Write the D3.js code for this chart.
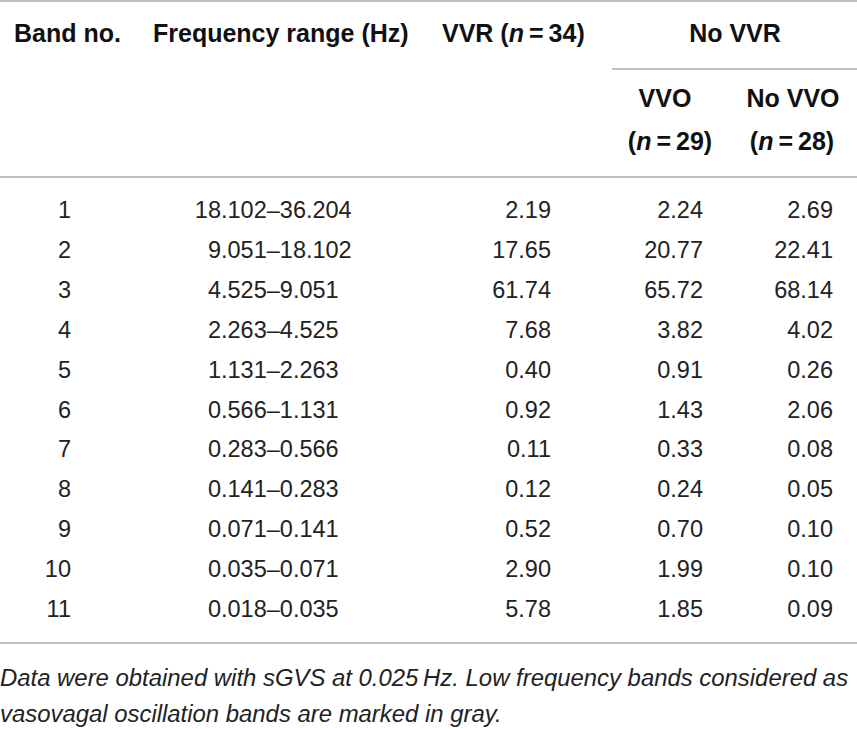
<!DOCTYPE html>
<html>
<head>
<meta charset="utf-8">
<script src="https://cdn.jsdelivr.net/npm/d3@7"></script>
<style>
  body { margin: 0; background: #fff; }
  svg text { font-family: "Liberation Sans", Arial, sans-serif; fill: #111; }
  .head { font-weight: bold; font-size: 25px; }
  .cell { font-size: 23.5px; fill: #222; }
  .note { font-size: 23.9px; font-style: italic; fill: #222; }
</style>
</head>
<body>
<svg id="viz"></svg>
<script>
// table data
var bands = [1, 2, 3, 4, 5, 6, 7, 8, 9, 10, 11]
var freqRanges = ["18.102–36.204", "9.051–18.102", "4.525–9.051", "2.263–4.525", "1.131–2.263",
  "0.566–1.131", "0.283–0.566", "0.141–0.283", "0.071–0.141", "0.035–0.071", "0.018–0.035"]
var vvr = [2.19, 17.65, 61.74, 7.68, 0.40, 0.92, 0.11, 0.12, 0.52, 2.90, 5.78]
var vvo = [2.24, 20.77, 65.72, 3.82, 0.91, 1.43, 0.33, 0.24, 0.70, 1.99, 1.85]
var noVvo = [2.69, 22.41, 68.14, 4.02, 0.26, 2.06, 0.08, 0.05, 0.10, 0.10, 0.09]
var groupN = { vvr: 34, vvo: 29, noVvo: 28 }
var footnote = ["Data were obtained with sGVS at 0.025\u2009Hz. Low frequency bands considered as",
  "vasovagal oscillation bands are marked in gray."]

var width = 857
var height = 729

var svg = d3.select("#viz")
  .attr("width", width)
  .attr("height", height)

// row baselines
var y = d3.scaleLinear().domain([0, bands.length - 1]).range([218, 617])

var rule = function(x1, x2, yy) {
  svg.append("line")
    .attr("x1", x1).attr("x2", x2)
    .attr("y1", yy).attr("y2", yy)
    .attr("stroke", "#aaa")
    .attr("stroke-width", 1.6)
}

rule(0, width, 1)
rule(612, width, 69)
rule(0, width, 177)
rule(0, width, 643)

// header
function headText(x, yy, anchor, parts) {
  let t = svg.append("text").attr("class", "head")
    .attr("x", x).attr("y", yy).attr("text-anchor", anchor)
  parts.forEach(p => {
    let s = t.append("tspan").text(p[0])
    if (p[1]) s.style("font-style", "italic")
  })
}

headText(14, 42, "start", [["Band no."]])
headText(153, 42, "start", [["Frequency range (Hz)"]])
headText(442, 42, "start", [["VVR ("], ["n", true], ["\u2009=\u2009" + groupN.vvr + ")"]])
headText(735, 42, "middle", [["No VVR"]])
headText(665, 107, "middle", [["VVO"]])
headText(793, 107, "middle", [["No VVO"]])
headText(670, 150, "middle", [["("], ["n", true], ["\u2009=\u2009" + groupN.vvo + ")"]])
headText(792, 150, "middle", [["("], ["n", true], ["\u2009=\u2009" + groupN.noVvo + ")"]])

// body
var rows = svg.selectAll("g.row")
  .data(bands)
  .enter()
  .append("g")
  .attr("class", "row")
  .attr("transform", (d, i) => "translate(0," + y(i) + ")")

rows.append("text").attr("class", "cell")
  .attr("x", 71).attr("text-anchor", "end")
  .text(d => d)

// frequency range aligned on the first decimal point
rows.append("text").attr("class", "cell")
  .attr("x", 221).attr("text-anchor", "end")
  .text((d, i) => freqRanges[i].split(".")[0])
rows.append("text").attr("class", "cell")
  .attr("x", 221).attr("text-anchor", "start")
  .text((d, i) => "." + freqRanges[i].split(".").slice(1).join("."))

var fmt = d3.format(".2f")
var cols = [[vvr, 551], [vvo, 703], [noVvo, 833]]
cols.forEach(c => {
  rows.append("text").attr("class", "cell")
    .attr("x", c[1]).attr("text-anchor", "end")
    .text((d, i) => fmt(c[0][i]))
})

// footnote
svg.selectAll("text.note")
  .data(footnote)
  .enter()
  .append("text")
  .attr("class", "note")
  .attr("x", 0)
  .attr("y", (d, i) => 686 + i * 36)
  .text(d => d)
</script>
</body>
</html>
